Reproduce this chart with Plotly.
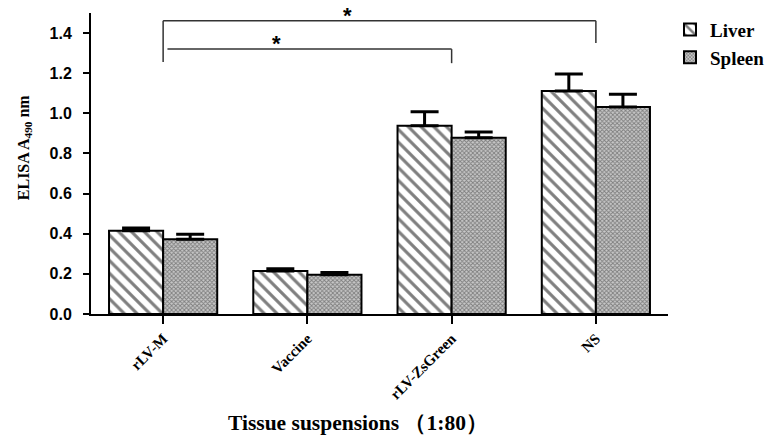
import plotly.graph_objects as go

categories = ["rLV-M", "Vaccine", "rLV-ZsGreen", "NS"]
liver = [0.415, 0.214, 0.938, 1.111]
liver_err = [0.013, 0.012, 0.070, 0.085]
spleen = [0.372, 0.195, 0.878, 1.031]
spleen_err = [0.025, 0.012, 0.029, 0.064]
y_ticks = [0.0, 0.2, 0.4, 0.6, 0.8, 1.0, 1.2, 1.4]

serif = "Liberation Serif, Times New Roman, serif"
sans = "Liberation Sans, Arial, sans-serif"

fig = go.Figure()
fig.add_trace(go.Bar(
    name="<b>Liver</b>", x=categories, y=liver,
    marker=dict(color="white", line=dict(color="black", width=2),
                pattern=dict(shape="\\", size=9, solidity=0.35, fgcolor="black", bgcolor="white")),
    error_y=dict(type="data", array=liver_err, arrayminus=[0]*4, symmetric=False,
                 color="black", thickness=3, width=14),
))
fig.add_trace(go.Bar(
    name="<b>Spleen</b>", x=categories, y=spleen,
    marker=dict(color="white", line=dict(color="black", width=2),
                pattern=dict(shape="x", size=3, solidity=0.5, fgcolor="#333", bgcolor="#c8c8c8")),
    error_y=dict(type="data", array=spleen_err, arrayminus=[0]*4, symmetric=False,
                 color="black", thickness=3, width=14),
))

# significance brackets
line = dict(color="#333", width=1.5)
fig.add_shape(type="line", xref="x", yref="y", x0=0, x1=3, y0=1.461, y1=1.461, line=line)
fig.add_shape(type="line", xref="x", yref="y", x0=0, x1=0, y0=1.461, y1=1.256, line=line)
fig.add_shape(type="line", xref="x", yref="y", x0=3, x1=3, y0=1.461, y1=1.35, line=line)
fig.add_shape(type="line", xref="x", yref="y", x0=0.03, x1=2, y0=1.32, y1=1.32, line=line)
fig.add_shape(type="line", xref="x", yref="y", x0=2, x1=2, y0=1.32, y1=1.25, line=line)
fig.add_annotation(x=1.28, y=1.461, xref="x", yref="y", text="<b>*</b>", showarrow=False,
                   yanchor="bottom", yshift=-9, font=dict(family=sans, size=22, color="black"))
fig.add_annotation(x=0.785, y=1.32, xref="x", yref="y", text="<b>*</b>", showarrow=False,
                   yanchor="bottom", yshift=-9, font=dict(family=sans, size=22, color="black"))

# axis titles
fig.add_annotation(x=0.463, y=-0.363, xref="paper", yref="paper",
                   text="<b>Tissue suspensions （1:80）</b>", showarrow=False,
                   xanchor="center", yanchor="middle",
                   font=dict(family=serif, size=21.5, color="black"))
fig.add_annotation(x=-0.116, y=0.551, xref="paper", yref="paper",
                   text="<b>ELISA A<sub>490</sub> nm</b>", showarrow=False, textangle=-90,
                   xanchor="center", yanchor="middle",
                   font=dict(family=serif, size=16, color="black"))

fig.update_layout(
    width=771, height=435,
    margin=dict(l=91, r=103, t=13, b=121, autoexpand=False),
    plot_bgcolor="white", paper_bgcolor="white",
    barmode="group", bargap=0.25, bargroupgap=0.0,
    showlegend=True,
    legend=dict(x=(670 - 91) / 577, y=1.008, xanchor="left", yanchor="top",
                font=dict(family=serif, size=19, color="black"),
                itemwidth=30, bgcolor="rgba(0,0,0,0)"),
    xaxis=dict(
        range=[-0.5, 3.5], showline=True, linecolor="black", linewidth=2,
        ticks="outside", ticklen=8, tickwidth=2, tickcolor="black",
        tickangle=-45, tickfont=dict(family=serif, size=15, color="black"),
        tickvals=categories, ticktext=[f"<b>{c}</b>" for c in categories],
        automargin=False,
    ),
    yaxis=dict(
        range=[0, 1.5], tickvals=y_ticks, ticktext=[f"<b>{v:.1f}</b>" for v in y_ticks],
        showline=True, linecolor="black", linewidth=2, showgrid=False, zeroline=False,
        ticks="outside", ticklen=6, tickwidth=2, tickcolor="black",
        tickfont=dict(family=sans, size=16, color="black"), ticklabelstandoff=8,
        automargin=False,
    ),
)

fig.write_html("out.html", config={"displayModeBar": False},
               post_script="document.body.style.margin='0';document.body.style.overflow='hidden';")
